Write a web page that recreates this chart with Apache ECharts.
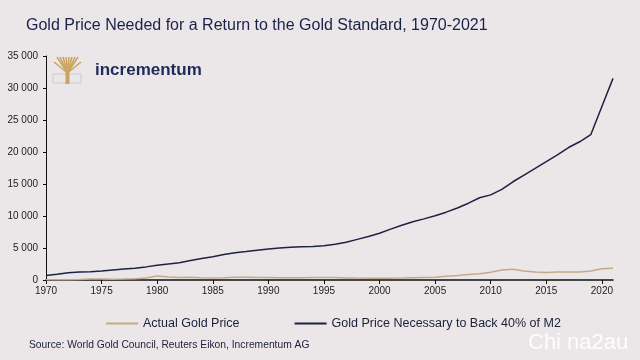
<!DOCTYPE html>
<html><head><meta charset="utf-8">
<script src="https://cdn.jsdelivr.net/npm/echarts@6/dist/echarts.min.js"></script>
<style>html,body{margin:0;padding:0;background:#ebe7e8}#c{width:640px;height:360px}</style>
</head><body><div id="c"></div>
<script>
const years = [];
for (let y = 1970; y <= 2021; y++) years.push(y);
const m2Backed = [700,900,1150,1250,1300,1400,1550,1700,1850,2050,2300,2500,2700,3050,3350,3650,4000,4270,4450,4650,4850,5000,5100,5200,5250,5350,5600,5900,6350,6800,7300,7950,8550,9100,9550,10050,10600,11250,12000,12850,13300,14150,15350,16400,17450,18500,19550,20700,21600,22700,27100,31500];
const goldPrice = [36,41,58,97,159,161,125,148,193,307,612,460,376,424,361,317,368,447,437,381,383,362,344,360,384,384,388,331,294,279,279,271,310,363,409,444,603,695,872,972,1225,1572,1669,1411,1266,1160,1251,1257,1268,1393,1770,1830];
const xTicks = [1970,1975,1980,1985,1990,1995,2000,2005,2010,2015,2020];
const seriesNames = ['Actual Gold Price','Gold Price Necessary to Back 40% of M2'];
const titleText = 'Gold Price Needed for a Return to the Gold Standard, 1970-2021';
const sourceText = 'Source: World Gold Council, Reuters Eikon, Incrementum AG';

const chart = echarts.init(document.getElementById('c'), null, {renderer:'canvas'});
const F = 'Liberation Sans, Arial, sans-serif';
const fmt = v => String(v).replace(/\B(?=(\d{3})+(?!\d))/g, ' ');
const gold = '#c9a55f';
const branches = [];
const tops = [54,57,60,63,66,69,72,75,78,81];
tops.forEach((tx,i)=>{
  const ty = (i===0||i===tops.length-1)?62:57;
  branches.push({type:'line', shape:{x1:67.5,y1:73,x2:tx,y2:ty}, style:{stroke:gold,lineWidth:1.6}});
});
chart.setOption({
  backgroundColor:'#ebe7e8',
  animation:false,
  title:{text:titleText,left:21,top:13,textStyle:{fontFamily:F,fontSize:16,fontWeight:'normal',color:'#19204a'}},
  grid:{left:46,right:27,top:56,bottom:80},
  legend:{data:seriesNames.map(n=>({name:n,icon:'rect'})),left:101,top:312,itemWidth:32,itemHeight:2,itemGap:55,
    textStyle:{fontFamily:F,fontSize:12.5,color:'#1a1f3a'}},
  xAxis:{type:'value',min:1970,max:2021,
    axisLine:{lineStyle:{color:'#111',width:1.5}},
    axisTick:{customValues:xTicks,length:4,lineStyle:{color:'#111'}},
    axisLabel:{customValues:xTicks,margin:6,fontFamily:F,fontSize:10,color:'#222',formatter:v=>String(v)},
    splitLine:{show:false}},
  yAxis:{type:'value',min:0,max:35000,interval:5000,
    axisLine:{show:true,lineStyle:{color:'#111',width:1}},
    axisTick:{show:true,length:3,lineStyle:{color:'#111'}},
    axisLabel:{margin:8,fontFamily:F,fontSize:10,color:'#222',formatter:fmt},
    splitLine:{show:false}},
  series:[
    {name:seriesNames[0],type:'line',showSymbol:false,data:years.map((y,i)=>[y,goldPrice[i]]),lineStyle:{color:'#c4aa88',width:1.5},itemStyle:{color:'#c4aa88'}},
    {name:seriesNames[1],type:'line',showSymbol:false,data:years.map((y,i)=>[y,m2Backed[i]]),lineStyle:{color:'#1b2244',width:1.5},itemStyle:{color:'#1b2244'}}
  ],
  graphic:[
    {type:'rect',shape:{x:53,y:74,width:28,height:9},style:{fill:'none',stroke:'#c9ccd6',lineWidth:1}},
    ...branches,
    {type:'rect',shape:{x:65.5,y:70,width:4,height:14},style:{fill:gold}},
    {type:'text',left:95,top:62,style:{text:'incrementum',font:'bold 17px '+F,fill:'#1f2a5a'}},
    {type:'text',x:29,y:339,scaleX:0.935,style:{text:sourceText,font:'11px '+F,fill:'#1a1f3a'}},
    {type:'text',left:528,top:332,style:{text:'Chi na2au',font:'22px '+F,fill:'rgba(255,255,255,0.9)'}}
  ]
});
</script></body></html>
